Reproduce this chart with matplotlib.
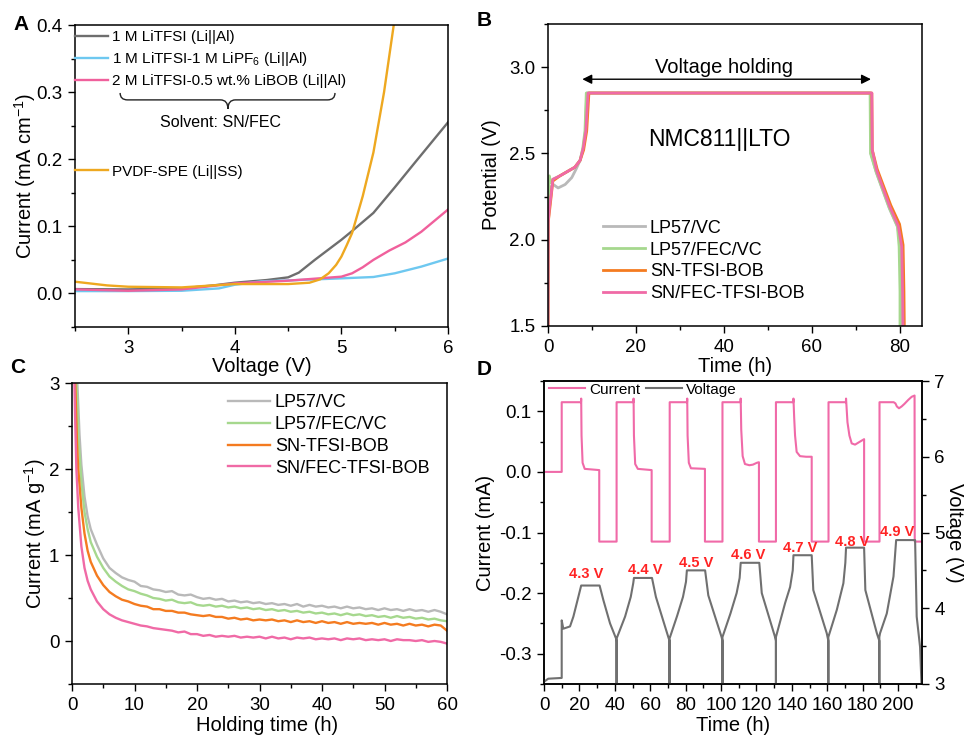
import numpy as np
import matplotlib
matplotlib.use("Agg")
import matplotlib.pyplot as plt
from matplotlib.path import Path
from matplotlib.patches import PathPatch
from matplotlib.ticker import MultipleLocator

plt.rcParams['font.family'] = ['Liberation Sans', 'DejaVu Sans']
plt.rcParams['mathtext.default'] = 'regular'
plt.rcParams['axes.unicode_minus'] = False
plt.rcParams['axes.linewidth'] = 1.1

# ---------------- Panel A data (LSV) ----------------
a_labels = ["1 M LiTFSI (Li||Al)", "1 M LiTFSI-1 M LiPF$_6$ (Li||Al)",
            "2 M LiTFSI-0.5 wt.% LiBOB (Li||Al)", "PVDF-SPE (Li||SS)"]
a_gray_v = [2.5, 3.0, 3.5, 3.8, 4.0, 4.3, 4.5, 4.6, 4.75, 4.9, 5.0, 5.1, 5.3, 5.5, 5.7, 5.85, 6.0]
a_gray_i = [0.0065, 0.006, 0.0075, 0.012, 0.016, 0.02, 0.024, 0.031, 0.05, 0.068, 0.08, 0.093, 0.12, 0.158, 0.197, 0.226, 0.255]
a_blue_v = [2.5, 3.0, 3.5, 3.85, 4.0, 4.25, 4.6, 5.0, 5.3, 5.5, 5.75, 6.0]
a_blue_i = [0.0035, 0.0035, 0.004, 0.0075, 0.013, 0.018, 0.02, 0.0225, 0.0245, 0.03, 0.04, 0.052]
a_pink_v = [2.5, 3.0, 3.5, 4.0, 4.5, 5.0, 5.1, 5.2, 5.3, 5.45, 5.6, 5.75, 6.0]
a_pink_i = [0.006, 0.004, 0.006, 0.015, 0.019, 0.025, 0.03, 0.039, 0.05, 0.064, 0.076, 0.092, 0.125]
a_orng_v = [2.5, 2.8, 3.0, 3.5, 4.0, 4.5, 4.7, 4.8, 4.88, 4.95, 5.0, 5.05, 5.1, 5.2, 5.3, 5.4, 5.5]
a_orng_i = [0.0175, 0.012, 0.010, 0.009, 0.014, 0.014, 0.016, 0.021, 0.03, 0.0425, 0.055, 0.072, 0.09, 0.145, 0.21, 0.30, 0.41]

# ---------------- Panel B data (voltage holding) ----------------
b_labels = ["LP57/VC", "LP57/FEC/VC", "SN-TFSI-BOB", "SN/FEC-TFSI-BOB"]
b_gray_t = [0, 0.05, 0.4, 1.2, 2.3, 3.9, 5.4, 6.4, 7.3, 8.0, 8.5, 8.8, 73.3, 73.4, 74.6, 77.6, 79.5, 80.2, 80.4, 80.5]
b_gray_v = [1.5, 2.15, 2.3, 2.32, 2.30, 2.32, 2.36, 2.41, 2.46, 2.53, 2.63, 2.85, 2.85, 2.5, 2.39, 2.18, 2.07, 1.95, 1.7, 1.45]
b_grn_t = [0, 0.05, 0.3, 0.6, 1.1, 2.7, 6.1, 7.3, 7.9, 8.4, 8.7, 73.2, 73.3, 74.5, 77.5, 79.4, 79.8, 80.0, 80.0]
b_grn_v = [1.5, 2.2, 2.37, 2.33, 2.35, 2.37, 2.42, 2.46, 2.53, 2.63, 2.85, 2.85, 2.5, 2.4, 2.19, 2.08, 1.96, 1.7, 1.45]
b_orng_t = [0, 0.05, 0.5, 1.1, 2.7, 6.1, 7.3, 8.1, 8.8, 9.3, 73.6, 73.7, 74.8, 77.9, 79.9, 80.7, 80.9, 81.0]
b_orng_v = [1.5, 2.1, 2.2, 2.34, 2.37, 2.42, 2.46, 2.52, 2.63, 2.85, 2.85, 2.52, 2.41, 2.2, 2.09, 1.97, 1.7, 1.45]
b_pink_t = [0, 0.05, 0.3, 0.8, 1.1, 2.7, 6.1, 7.3, 8.0, 8.6, 9.1, 73.6, 73.7, 74.7, 77.7, 79.6, 80.4, 80.6, 80.7]
b_pink_v = [1.5, 2.1, 2.18, 2.28, 2.35, 2.37, 2.42, 2.46, 2.53, 2.63, 2.85, 2.85, 2.52, 2.40, 2.19, 2.08, 1.96, 1.69, 1.45]

# ---------------- Panel C data (leakage current) ----------------
c_labels = ["LP57/VC", "LP57/FEC/VC", "SN-TFSI-BOB", "SN/FEC-TFSI-BOB"]
c_late_t = np.arange(6, 61)
c_gray_early_t = [0.6, 0.9, 1.2, 1.5, 2.0, 2.5, 3.0, 4.0, 5.0]
c_gray_early = [3.4, 2.92, 2.4, 2.05, 1.68, 1.45, 1.3, 1.12, 0.96]
c_gray_late = [0.85, 0.79, 0.74, 0.71, 0.69, 0.64, 0.63, 0.60, 0.59, 0.57, 0.58, 0.54, 0.53, 0.54, 0.51,
               0.49, 0.50, 0.48, 0.49, 0.46, 0.47, 0.45, 0.46, 0.44, 0.45, 0.43, 0.44, 0.42, 0.43, 0.41,
               0.43, 0.40, 0.42, 0.40, 0.41, 0.39, 0.40, 0.38, 0.40, 0.38, 0.39, 0.37, 0.38, 0.36, 0.38,
               0.36, 0.37, 0.35, 0.37, 0.35, 0.36, 0.34, 0.36, 0.34, 0.31]
c_grn_early_t = [0.5, 0.8, 1.0, 1.5, 2.0, 2.5, 3.0, 4.0, 5.0]
c_grn_early = [3.3, 2.85, 2.4, 1.85, 1.5, 1.3, 1.15, 0.98, 0.85]
c_grn_late = [0.75, 0.69, 0.64, 0.60, 0.58, 0.55, 0.53, 0.50, 0.49, 0.47, 0.48, 0.45, 0.44, 0.45, 0.42,
              0.41, 0.42, 0.40, 0.41, 0.39, 0.40, 0.38, 0.39, 0.37, 0.38, 0.36, 0.37, 0.35, 0.36, 0.34,
              0.35, 0.33, 0.34, 0.32, 0.33, 0.31, 0.32, 0.30, 0.32, 0.30, 0.31, 0.29, 0.30, 0.28, 0.29,
              0.27, 0.29, 0.27, 0.28, 0.26, 0.27, 0.25, 0.26, 0.24, 0.23]
c_orng_early_t = [0.4, 0.6, 0.8, 1.0, 1.5, 2.0, 2.5, 3.0, 4.0, 5.0]
c_orng_early = [3.3, 2.8, 2.3, 2.0, 1.55, 1.25, 1.05, 0.92, 0.76, 0.65]
c_orng_late = [0.57, 0.52, 0.48, 0.46, 0.43, 0.41, 0.40, 0.37, 0.37, 0.35, 0.35, 0.33, 0.33, 0.31, 0.30,
               0.29, 0.30, 0.28, 0.28, 0.26, 0.27, 0.25, 0.26, 0.24, 0.25, 0.24, 0.25, 0.23, 0.24, 0.22,
               0.24, 0.22, 0.23, 0.21, 0.23, 0.21, 0.22, 0.20, 0.22, 0.20, 0.21, 0.20, 0.21, 0.19, 0.21,
               0.19, 0.20, 0.18, 0.20, 0.18, 0.19, 0.17, 0.19, 0.18, 0.12]
c_pink_early_t = [0.3, 0.5, 0.7, 1.0, 1.5, 2.0, 2.5, 3.0, 4.0, 5.0]
c_pink_early = [3.3, 2.6, 2.0, 1.55, 1.1, 0.85, 0.7, 0.6, 0.46, 0.37]
c_pink_late = [0.31, 0.27, 0.24, 0.22, 0.20, 0.18, 0.17, 0.15, 0.14, 0.13, 0.12, 0.10, 0.11, 0.08, 0.08,
               0.06, 0.07, 0.05, 0.06, 0.05, 0.06, 0.04, 0.05, 0.04, 0.05, 0.03, 0.05, 0.03, 0.04, 0.02,
               0.04, 0.03, 0.04, 0.02, 0.03, 0.02, 0.03, 0.01, 0.03, 0.02, 0.03, 0.01, 0.02, 0.01, 0.02,
               0.00, 0.02, 0.01, 0.01, 0.00, 0.01, -0.01, 0.00, -0.01, -0.03]

# ---------------- Panel D data (stepwise floating) ----------------
d_cur_t = [0, 10, 10, 20.9, 21.0, 21.2, 21.8, 23, 31.2, 31.2, 41,
           41, 50.5, 50.6, 50.8, 51.5, 53, 60.8, 60.8, 71,
           71, 80.8, 80.9, 81.1, 81.8, 83, 90.9, 90.9, 100.8,
           100.8, 111.0, 111.1, 111.4, 112.2, 113.5, 116, 118, 120.2, 121.4, 121.4, 131,
           131, 140.8, 140.9, 141.3, 141.8, 142.7, 144.6, 148, 151.2, 151.2, 160.7,
           160.7, 170.5, 170.6, 171.4, 172.5, 173.8, 175.7, 178.5, 180.8, 180.8, 189.5,
           189.5, 197.5, 198.5, 199.3, 200.5, 202, 203.5, 205.8, 207.7, 209.3, 209.4, 213.5]
d_cur_i = [0, 0, 0.115, 0.115, 0.121, 0.06, 0.015, 0.005, 0.003, -0.115, -0.115,
           0.115, 0.115, 0.121, 0.06, 0.013, 0.005, 0.003, -0.115, -0.115,
           0.115, 0.115, 0.121, 0.06, 0.015, 0.006, 0.005, -0.115, -0.115,
           0.115, 0.115, 0.121, 0.07, 0.026, 0.013, 0.011, 0.012, 0.015, 0.016, -0.115, -0.115,
           0.115, 0.115, 0.121, 0.09, 0.06, 0.033, 0.026, 0.025, 0.025, -0.115, -0.115,
           0.115, 0.115, 0.121, 0.082, 0.06, 0.047, 0.045, 0.05, 0.054, -0.115, -0.115,
           0.115, 0.115, 0.113, 0.108, 0.105, 0.108, 0.112, 0.119, 0.124, 0.126, -0.115, -0.115]
d_vol_t = [0, 2.4, 10, 10, 10.9, 14.7, 16.6, 19.4, 21.0, 31.4, 33.5, 37.3, 40.7, 41, 41,
           41, 45.8, 49.0, 50.4, 50.8, 61.0, 63.2, 70.2, 70.9, 70.9,
           70.9, 75.2, 78.5, 80.2, 80.7, 91.0, 92.8, 100.3, 100.8, 100.8,
           100.8, 105.3, 108.8, 110.5, 111.1, 121.6, 123.0, 130.5, 131.0, 131.0,
           131.0, 136.2, 139.0, 140.5, 140.9, 151.2, 152.1, 159.7, 160.6, 160.6,
           160.6, 165.4, 169.1, 170.2, 170.6, 180.8, 181.5, 188.0, 189.4, 189.4,
           189.4, 189.8, 193.6, 197.4, 198.9, 209.6, 210.5, 212.4, 213.3]
d_vol_v = [3.03, 3.07, 3.08, 3.84, 3.73, 3.76, 3.89, 4.15, 4.3, 4.3, 4.11, 3.80, 3.6, 3.56, 2.95,
           3.6, 3.89, 4.15, 4.33, 4.4, 4.4, 4.15, 3.62, 3.57, 2.95,
           3.6, 3.9, 4.15, 4.35, 4.5, 4.5, 4.17, 3.62, 3.57, 2.95,
           3.62, 3.93, 4.2, 4.4, 4.6, 4.6, 4.2, 3.62, 3.57, 2.95,
           3.62, 4.07, 4.28, 4.5, 4.7, 4.7, 4.24, 3.67, 3.57, 2.95,
           3.62, 3.98, 4.33, 4.6, 4.8, 4.8, 4.24, 3.67, 3.57, 2.95,
           3.62, 3.67, 3.93, 4.42, 4.9, 4.9, 3.89, 3.49, 2.95]
d_step_labels = ["4.3 V", "4.4 V", "4.5 V", "4.6 V", "4.7 V", "4.8 V", "4.9 V"]

# ---------------- styling ----------------
TICK = 13.5
LAB = 14.5

def style(ax, right=False):
    ax.tick_params(which='both', direction='out', top=False, right=right, labelsize=TICK, width=1.0)
    ax.tick_params(which='major', length=5, pad=4)
    ax.tick_params(which='minor', length=3)

W, H = 964, 736
fig = plt.figure(figsize=(W / 100, H / 100), dpi=100)

def px_axes(l, t, r, b):
    return fig.add_axes([l / W, 1 - b / H, (r - l) / W, (b - t) / H])

# ---------- A ----------
axA = px_axes(75, 25, 448, 327)
lg, = axA.plot(a_gray_v, a_gray_i, color='#6e6e6e', lw=1.7, label=a_labels[0])
lb, = axA.plot(a_blue_v, a_blue_i, color='#6ec8f0', lw=1.7, label=a_labels[1])
lp, = axA.plot(a_pink_v, a_pink_i, color='#f0609c', lw=1.7, label=a_labels[2])
lo, = axA.plot(a_orng_v, a_orng_i, color='#eea820', lw=1.7, label=a_labels[3])
axA.set_xlim(2.5, 6)
axA.set_ylim(-0.05, 0.4)
axA.xaxis.set_major_locator(MultipleLocator(1))
axA.xaxis.set_minor_locator(MultipleLocator(0.5))
axA.yaxis.set_major_locator(MultipleLocator(0.1))
axA.yaxis.set_minor_locator(MultipleLocator(0.05))
axA.yaxis.set_major_formatter(matplotlib.ticker.FormatStrFormatter('%.1f'))
style(axA)
axA.set_xlabel('Voltage (V)', fontsize=LAB)
axA.set_ylabel('Current (mA cm$^{-1}$)', fontsize=LAB)
axA.xaxis.set_label_coords(0.5, -0.100)
axA.yaxis.set_label_coords(-0.100, 0.5)
legA1 = axA.legend(handles=[lg, lb, lp], loc='upper left', bbox_to_anchor=(0.0, 0.982),
                   frameon=False, fontsize=11, handlelength=2.15, handletextpad=0.3,
                   labelspacing=0.38, borderpad=0, borderaxespad=0)
axA.add_artist(legA1)
axA.legend(handles=[lo], loc='upper left', bbox_to_anchor=(0.0, 0.538), frameon=False,
           fontsize=11, handlelength=2.15, handletextpad=0.3, borderpad=0, borderaxespad=0)
# brace
x0, x1, xm, d = 0.121, 0.697, 0.41, 0.02
yt, ym, yb = 0.775, 0.752, 0.722
verts = [(x0, yt), (x0, ym), (x0 + d, ym), (xm - d, ym), (xm, ym), (xm, yb),
         (xm, ym), (xm + d, ym), (x1 - d, ym), (x1, ym), (x1, yt)]
codes = [Path.MOVETO, Path.CURVE3, Path.CURVE3, Path.LINETO, Path.CURVE3, Path.CURVE3,
         Path.CURVE3, Path.CURVE3, Path.LINETO, Path.CURVE3, Path.CURVE3]
axA.add_patch(PathPatch(Path(verts, codes), transform=axA.transAxes, fill=False, lw=1.0, color='#222222'))
axA.text(0.389, 0.678, 'Solvent: SN/FEC', transform=axA.transAxes, ha='center', va='center', fontsize=11.5)

# ---------- B ----------
axB = px_axes(548, 24, 922, 326)
c_g, c_gr, c_o, c_p = '#b9b9b9', '#a6d88e', '#f47b20', '#f06aa6'
axB.plot(b_gray_t, b_gray_v, color=c_g, lw=2.0, label=b_labels[0])
axB.plot(b_grn_t, b_grn_v, color=c_gr, lw=2.0, label=b_labels[1])
axB.plot(b_orng_t, b_orng_v, color=c_o, lw=2.0, label=b_labels[2])
axB.plot(b_pink_t, b_pink_v, color=c_p, lw=2.0, label=b_labels[3])
axB.set_xlim(0, 85)
axB.set_ylim(1.5, 3.25)
axB.xaxis.set_major_locator(MultipleLocator(20))
axB.xaxis.set_minor_locator(MultipleLocator(10))
axB.yaxis.set_major_locator(MultipleLocator(0.5))
axB.yaxis.set_minor_locator(MultipleLocator(0.25))
axB.yaxis.set_major_formatter(matplotlib.ticker.FormatStrFormatter('%.1f'))
style(axB)
axB.set_xlabel('Time (h)', fontsize=LAB)
axB.set_ylabel('Potential (V)', fontsize=LAB)
axB.xaxis.set_label_coords(0.5, -0.103)
axB.yaxis.set_label_coords(-0.126, 0.5)
axB.legend(loc='upper left', bbox_to_anchor=(0.147, 0.352), frameon=False, fontsize=13,
           handlelength=2.3, handletextpad=0.3, labelspacing=0.27, borderpad=0, borderaxespad=0)
axB.annotate('', xy=(7.8, 2.93), xytext=(73.4, 2.93),
             arrowprops=dict(arrowstyle='<|-|>', color='black', lw=1.0, mutation_scale=14,
                             shrinkA=0, shrinkB=0))
axB.text(40, 3.0, 'Voltage holding', ha='center', va='center', fontsize=14.5)
axB.text(39, 2.58, 'NMC811||LTO', ha='center', va='center', fontsize=16.5)

# ---------- C ----------
axC = px_axes(72, 383, 447, 684)
axC.plot(list(c_gray_early_t) + list(c_late_t), c_gray_early + c_gray_late, color=c_g, lw=1.7, label=c_labels[0])
axC.plot(list(c_grn_early_t) + list(c_late_t), c_grn_early + c_grn_late, color=c_gr, lw=1.7, label=c_labels[1])
axC.plot(list(c_orng_early_t) + list(c_late_t), c_orng_early + c_orng_late, color=c_o, lw=1.7, label=c_labels[2])
axC.plot(list(c_pink_early_t) + list(c_late_t), c_pink_early + c_pink_late, color=c_p, lw=1.7, label=c_labels[3])
axC.set_xlim(0, 60)
axC.set_ylim(-0.5, 3)
axC.xaxis.set_major_locator(MultipleLocator(10))
axC.xaxis.set_minor_locator(MultipleLocator(5))
axC.yaxis.set_major_locator(MultipleLocator(1))
axC.yaxis.set_minor_locator(MultipleLocator(0.5))
style(axC)
axC.set_xlabel('Holding time (h)', fontsize=LAB)
axC.set_ylabel('Current (mA g$^{-1}$)', fontsize=LAB)
axC.xaxis.set_label_coords(0.52, -0.105)
axC.yaxis.set_label_coords(-0.064, 0.5)
axC.legend(loc='upper left', bbox_to_anchor=(0.416, 0.963), frameon=False, fontsize=13,
           handlelength=2.3, handletextpad=0.3, labelspacing=0.27, borderpad=0, borderaxespad=0)

# ---------- D ----------
axD = px_axes(544, 381, 922, 684)
c_cur, c_vol = '#f06aa8', '#707070'
lc, = axD.plot(d_cur_t, d_cur_i, color=c_cur, lw=1.5, label='Current')
axD.set_xlim(0, 213.5)
axD.set_ylim(-0.35, 0.15)
axD.xaxis.set_major_locator(MultipleLocator(20))
axD.xaxis.set_minor_locator(MultipleLocator(10))
axD.yaxis.set_major_locator(MultipleLocator(0.1))
axD.yaxis.set_minor_locator(MultipleLocator(0.05))
axD.yaxis.set_major_formatter(matplotlib.ticker.FormatStrFormatter('%.1f'))
style(axD)
axD.set_xlabel('Time (h)', fontsize=LAB)
axD.set_ylabel('Current (mA)', fontsize=LAB)
axD.xaxis.set_label_coords(0.5, -0.107)
axD.yaxis.set_label_coords(-0.130, 0.5)
axD2 = axD.twinx()
lv, = axD2.plot(d_vol_t, d_vol_v, color=c_vol, lw=1.5, label='Voltage')
axD2.set_ylim(3, 7)
axD2.yaxis.set_major_locator(MultipleLocator(1))
axD2.yaxis.set_minor_locator(MultipleLocator(0.5))
axD2.tick_params(which='both', direction='out', labelsize=TICK, width=1.0)
axD2.tick_params(which='major', length=5, pad=4)
axD2.tick_params(which='minor', length=3)
axD2.set_ylabel('Voltage (V)', fontsize=LAB, rotation=270, va='bottom')
axD2.yaxis.set_label_coords(1.061, 0.5)
axD2.legend(handles=[lc, lv], loc='upper left', bbox_to_anchor=(0.013, 0.995), ncol=2,
            frameon=False, fontsize=11, handlelength=2.35, handletextpad=0.3,
            columnspacing=0.35, borderpad=0, borderaxespad=0)
lab_pos_t = [24.1, 57.4, 86.2, 115.4, 144.6, 173.8, 199.3]
lab_pos_v = [4.45, 4.51, 4.60, 4.70, 4.80, 4.87, 5.0]
for s, tx, vy in zip(d_step_labels, lab_pos_t, lab_pos_v):
    axD2.text(tx, vy, s, color='#ff2424', fontsize=10.5, fontweight='bold', ha='center', va='center', zorder=10)

# panel letters
for s, xx, yy in [('A', 13, 25), ('B', 477, 21), ('C', 10, 367), ('D', 477, 370)]:
    fig.text(xx / W, 1 - yy / H, s, fontsize=15, fontweight='bold', ha='left', va='center')

fig.savefig('out.png', dpi=100)
